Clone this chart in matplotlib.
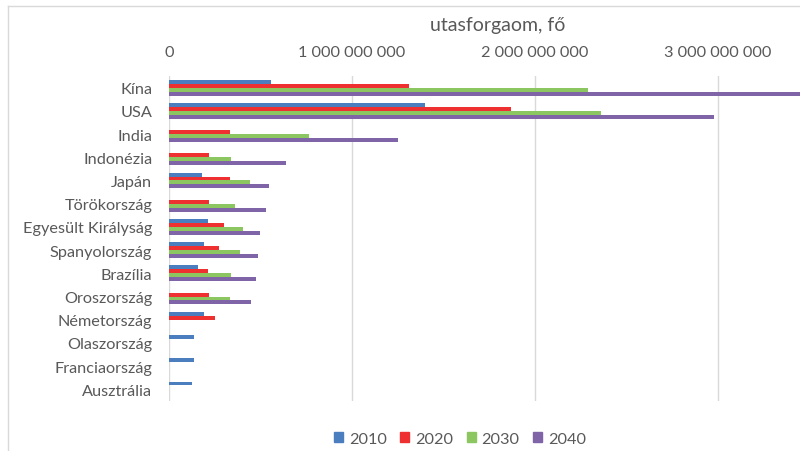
import matplotlib as mpl
mpl.use('Agg')
import matplotlib.pyplot as plt
import numpy as np
from matplotlib.patches import Patch
from matplotlib.lines import Line2D

plt.rcParams['font.family'] = ['Lato', 'DejaVu Sans']

countries = ['Kína', 'USA', 'India', 'Indonézia', 'Japán', 'Törökország',
             'Egyesült Királyság', 'Spanyolország', 'Brazília', 'Oroszország',
             'Németország', 'Olaszország', 'Franciaország', 'Ausztrália']
years = ['2010', '2020', '2030', '2040']

nan = np.nan
# passengers, millions (missing = no forecast)
v2010 = [558, 1400, nan, nan, 182, nan, 213, 190, 162, nan, 190, 137, 137, 126]
v2020 = [1314, 1868, 333, 219, 333, 221, 302, 275, 213, 219, 253, nan, nan, nan]
v2030 = [2289, 2362, 765, 339, 443, 363, 403, 388, 341, 337, nan, nan, nan, nan]
v2040 = [3600, 2978, 1252, 638, 549, 532, 499, 490, 474, 447, nan, nan, nan, nan]

series = [v2010, v2020, v2030, v2040]
colors = ['#4A7EBF', '#EE3030', '#8CC660', '#7F65A8']
text_col = '#595959'

fig = plt.figure(figsize=(8, 4.52), dpi=100)
ax = fig.add_axes([0.211, 0.1106, 0.789, 0.719])

y = np.arange(len(countries))
h = 0.17
for i, (vals, c) in enumerate(zip(series, colors)):
    ax.barh(y + (i - 1.5) * h, np.array(vals) * 1e6, height=h, color=c,
            zorder=3)

ax.set_ylim(len(countries) - 0.5, -0.5)
ax.set_xlim(0, 3.45e9)
ax.xaxis.tick_top()
ax.set_xticks([0, 1e9, 2e9, 3e9])
ax.set_xticklabels(['0', '1 000 000 000', '2 000 000 000', '3 000 000 000'])
ax.set_yticks(y)
ax.set_yticklabels(countries)
ax.tick_params(length=0, colors=text_col, labelsize=11.7)
ax.tick_params(axis='x', pad=12)
ax.tick_params(axis='y', pad=12)
ax.grid(axis='x', color='#D9D9D9', linewidth=1, zorder=0)
for s in ax.spines.values():
    s.set_visible(False)

fig.text(498 / 800, 1 - 25 / 452, 'utasforgaom, fő', ha='center', va='center',
         color=text_col, fontsize=14)

handles = [Patch(color=c) for c in colors]
fig.legend(handles, years, loc='center', bbox_to_anchor=(460 / 800, 1 - 440 / 452),
           ncol=4, frameon=False, fontsize=11.7, labelcolor=text_col,
           handlelength=0.55, handleheight=0.55, handletextpad=0.35, columnspacing=0.85)

# chart frame
fig.add_artist(Line2D([8 / 800, 8 / 800], [0, 1 - 7 / 452], color='#D9D9D9', lw=1,
                      transform=fig.transFigure))
fig.add_artist(Line2D([8 / 800, 1], [1 - 7 / 452, 1 - 7 / 452], color='#D9D9D9', lw=1,
                      transform=fig.transFigure))

fig.savefig('out.png')
